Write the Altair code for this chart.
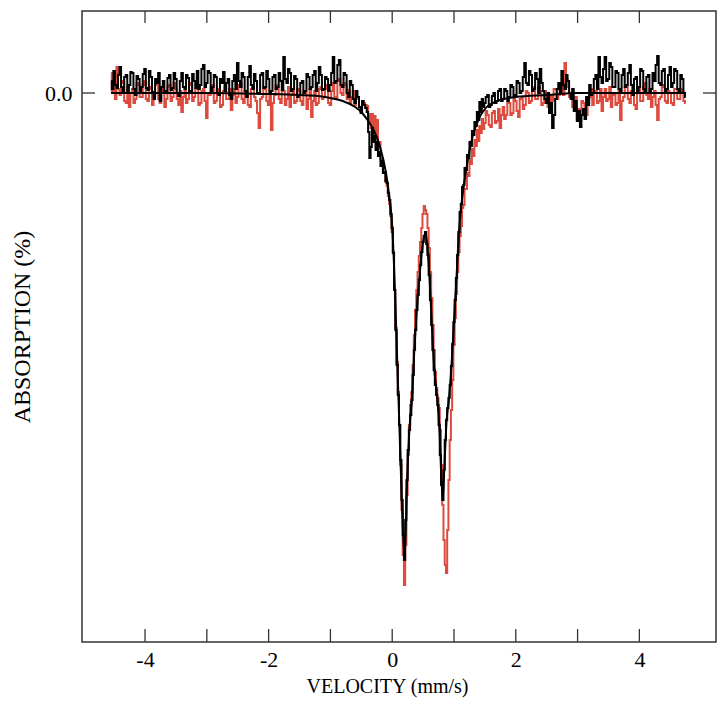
import altair as alt
import numpy as np
import pandas as pd

# ---- data (absorption in %, velocity in mm/s) ----
# channel grids: left wing, centre, right wing
left_start, left_step = -4.55, 0.025
mid_start, mid_step = -0.40, 0.02
right_start, right_step = 1.50, 0.025

black_left = [0.12,0.04,0.22,0.08,0.05,0.18,0.26,0.06,0.02,0.16,
 0.18,0.00,0.08,0.21,0.20,0.04,-0.02,0.17,0.14,0.02,
 0.06,0.19,0.24,0.05,0.03,0.22,0.16,0.01,-0.06,0.14,
 0.10,0.20,-0.08,0.06,0.12,0.02,0.00,0.15,0.18,0.03,
 0.05,0.20,0.14,0.00,-0.03,0.12,0.20,0.06,0.04,0.18,
 0.15,0.02,0.00,0.19,0.12,0.05,0.22,0.04,0.08,0.24,
 0.28,0.06,0.10,0.22,0.20,0.02,0.06,0.18,0.16,0.00,
 -0.02,0.14,0.10,0.21,0.02,0.10,0.14,-0.02,-0.06,0.12,
 0.18,0.04,0.30,0.12,0.06,0.20,0.16,0.02,-0.04,0.16,
 0.27,0.08,0.04,0.19,0.12,0.00,0.00,0.18,0.20,0.05,
 0.06,0.22,0.14,0.01,0.02,0.16,0.18,0.04,0.06,0.20,
 0.12,0.03,0.36,0.14,0.10,0.24,0.20,0.02,0.04,0.17,
 0.14,-0.04,-0.02,0.10,0.12,0.00,0.02,0.19,0.16,0.04,
 0.06,0.18,0.22,0.02,0.10,0.26,0.18,0.03,0.04,0.16,
 0.14,0.02,0.08,0.20,0.36,0.10,0.12,0.28,0.33,0.08,
 0.06,0.20,0.18,0.00,-0.04,0.12,0.08,-0.06,-0.10,0.02,
 -0.04,-0.14,-0.20,-0.08,-0.12,-0.15]
red_left = [0.20,0.02,0.08,-0.06,0.26,0.04,-0.02,0.12,0.10,-0.08,
 -0.10,0.06,-0.14,0.00,0.04,-0.10,-0.06,0.10,0.08,-0.04,
 -0.04,0.08,0.12,-0.06,-0.08,0.04,0.06,-0.12,-0.02,0.08,
 0.10,-0.06,-0.10,0.04,0.02,-0.14,-0.06,0.06,0.08,-0.08,
 -0.04,0.10,0.04,-0.06,-0.12,0.02,-0.19,-0.04,0.02,-0.10,
 -0.06,0.08,0.10,-0.08,-0.04,0.04,0.06,-0.12,-0.10,0.02,
 0.04,-0.08,-0.25,-0.02,-0.02,0.06,0.08,-0.10,-0.08,0.04,
 0.02,-0.14,-0.12,0.02,0.06,-0.06,-0.06,0.04,-0.17,-0.02,
 0.04,-0.10,-0.04,0.08,0.10,-0.06,-0.10,0.02,0.00,-0.12,
 -0.14,0.04,0.06,-0.04,-0.08,-0.20,-0.35,-0.06,-0.04,0.06,
 0.04,-0.08,-0.12,-0.02,-0.37,-0.10,-0.02,0.08,0.08,-0.06,
 -0.10,0.02,0.02,-0.12,-0.06,0.06,-0.14,-0.02,0.04,-0.10,
 -0.08,0.04,0.02,-0.08,-0.12,0.02,0.00,-0.16,-0.06,0.04,
 -0.24,-0.08,0.02,-0.12,-0.10,0.04,0.06,-0.06,-0.04,0.08,
 0.04,-0.10,-0.12,0.02,0.10,-0.04,-0.06,0.12,0.14,0.00,
 -0.02,0.10,0.08,-0.06,0.03,-0.10,-0.04,0.02,-0.12,-0.04,
 -0.06,-0.14,-0.16,-0.08,-0.10,-0.12]
black_mid = [-0.19,-0.39,-0.65,-0.54,-0.35,-0.49,-0.43,-0.57,-0.49,-0.63,
 -0.59,-0.73,-0.68,-0.80,-0.79,-0.88,-0.90,-1.00,-1.07,-1.21,
 -1.35,-1.60,-1.97,-2.37,-2.72,-3.02,-3.32,-3.67,-4.07,-4.42,
 -4.67,-4.27,-3.87,-3.57,-3.37,-3.22,-3.07,-2.82,-2.57,-2.37,
 -2.17,-2.02,-1.87,-1.72,-1.59,-1.49,-1.43,-1.39,-1.51,-1.62,
 -1.82,-2.07,-2.32,-2.57,-2.77,-2.92,-3.02,-3.12,-3.32,-3.62,
 -3.92,-4.07,-3.77,-3.47,-3.27,-3.15,-3.05,-2.92,-2.73,-2.51,
 -2.29,-2.07,-1.85,-1.62,-1.39,-1.19,-1.11,-0.94,-0.92,-0.75,
 -0.77,-0.62,-0.65,-0.49,-0.53,-0.38,-0.42,-0.29,-0.33,-0.19,
 -0.27,-0.09,-0.19,-0.06,-0.14]
red_mid = [-0.13,-0.28,-0.21,-0.35,-0.21,-0.37,-0.23,-0.43,-0.27,-0.51,
 -0.49,-0.66,-0.66,-0.79,-0.79,-0.89,-0.93,-1.03,-1.11,-1.23,
 -1.39,-1.59,-1.97,-2.35,-2.69,-2.99,-3.32,-3.72,-4.17,-4.62,
 -4.92,-4.52,-4.02,-3.62,-3.32,-3.12,-2.99,-2.72,-2.42,-2.17,
 -1.97,-1.79,-1.63,-1.49,-1.35,-1.21,-1.13,-1.17,-1.21,-1.35,
 -1.55,-1.79,-2.05,-2.32,-2.57,-2.79,-2.95,-3.05,-3.15,-3.37,
 -3.72,-4.12,-4.47,-4.72,-4.80,-4.37,-3.87,-3.47,-3.17,-2.87,
 -2.52,-2.25,-2.01,-1.79,-1.59,-1.43,-1.33,-1.15,-1.12,-0.96,
 -0.96,-0.80,-0.83,-0.67,-0.71,-0.56,-0.63,-0.47,-0.53,-0.37,
 -0.48,-0.33,-0.40,-0.26,-0.36]
black_right = [-0.10,-0.04,-0.02,-0.14,-0.12,-0.03,0.00,-0.10,-0.08,0.02,
 0.04,-0.08,-0.06,0.04,0.02,-0.08,-0.04,0.08,0.06,-0.04,
 -0.02,0.12,0.10,0.00,0.02,0.16,0.30,0.10,0.08,0.22,
 0.18,0.02,0.04,0.20,0.14,0.00,0.24,0.10,0.02,-0.06,
 -0.10,0.00,-0.20,-0.10,-0.35,-0.22,-0.06,0.04,0.10,0.00,
 0.22,0.08,0.04,0.18,0.12,0.00,-0.06,0.04,-0.18,-0.08,
 -0.28,-0.18,-0.34,-0.22,-0.16,-0.26,-0.04,-0.12,0.08,-0.02,
 0.00,0.14,0.18,0.04,0.36,0.16,0.10,0.24,0.36,0.12,
 0.14,0.30,0.26,0.06,0.06,0.22,0.20,0.04,0.02,0.18,
 0.24,0.06,0.08,0.20,0.28,0.08,-0.02,0.14,0.16,0.02,
 0.06,0.24,0.22,0.04,0.00,0.16,0.18,0.02,0.04,0.20,
 0.12,0.28,0.37,0.10,0.08,0.22,0.24,0.02,0.04,0.18,
 0.26,0.06,0.10,0.24,0.22,0.04,0.02,0.18,0.14,0.00,
 -0.04]
red_right = [-0.30,-0.18,-0.22,-0.32,-0.34,-0.20,-0.18,-0.30,-0.28,-0.16,
 -0.35,-0.22,-0.14,-0.26,-0.22,-0.10,-0.10,-0.22,-0.20,-0.06,
 -0.08,-0.18,-0.24,-0.06,-0.04,-0.16,-0.12,0.02,0.00,-0.10,
 -0.08,0.04,0.06,-0.06,-0.06,0.06,0.02,-0.12,-0.10,0.02,
 -0.04,-0.14,-0.16,-0.02,-0.08,0.04,0.04,-0.06,-0.02,0.08,
 0.10,-0.02,0.30,0.14,0.06,-0.04,-0.04,-0.14,-0.14,-0.04,
 -0.26,-0.16,-0.20,-0.08,-0.10,-0.20,-0.22,-0.06,-0.04,0.04,
 -0.12,0.02,0.02,-0.10,-0.08,0.04,-0.18,-0.04,0.04,-0.08,
 -0.06,0.06,-0.14,-0.02,0.00,-0.12,-0.10,0.04,-0.27,-0.08,
 -0.04,0.06,0.06,-0.06,-0.10,0.02,-0.02,-0.12,-0.16,0.00,
 0.04,-0.08,-0.08,0.06,0.10,-0.02,-0.06,0.04,-0.14,-0.04,
 0.02,-0.12,-0.27,-0.06,-0.04,0.08,0.06,-0.08,-0.10,0.02,
 0.00,-0.10,-0.12,0.04,0.04,-0.06,-0.06,0.04,0.02,-0.08,
 -0.10]

fit_v = [-4.55,-3.0,-2.0,-1.5,-1.2,-1.0,-0.8,-0.6,-0.5,-0.4,-0.3,-0.2,-0.1,-0.05,
         0.0,0.04,0.08,0.12,0.16,0.20,0.24,0.28,0.32,0.36,0.40,0.44,0.48,0.52,0.54,
         0.56,0.60,0.64,0.68,0.72,0.76,0.80,0.82,0.84,0.88,0.92,0.96,1.00,1.04,1.08,
         1.12,1.16,1.20,1.25,1.30,1.40,1.50,1.70,2.00,2.50,3.00,4.75]
fit_y = [0.00,0.00,-0.01,-0.02,-0.03,-0.05,-0.08,-0.14,-0.19,-0.27,-0.37,-0.53,-0.80,-1.02,
         -1.33,-1.90,-2.65,-3.40,-4.15,-4.65,-3.90,-3.35,-3.05,-2.55,-2.15,-1.85,-1.58,-1.43,-1.40,
         -1.48,-1.80,-2.30,-2.75,-3.00,-3.30,-3.90,-4.05,-3.80,-3.28,-3.05,-2.72,-2.28,-1.85,-1.40,
         -1.12,-0.92,-0.76,-0.58,-0.44,-0.26,-0.16,-0.08,-0.04,-0.02,0.00,0.00]

x_ticks = [-4, -3, -2, -1, 0, 1, 2, 3, 4]
x_labels = [-4, -2, 0, 2, 4]

# ---- build tables ----
def grid(start, step, n):
    return np.round(start + step * np.arange(n), 4)

vel = np.concatenate([grid(left_start, left_step, len(black_left)),
                      grid(mid_start, mid_step, len(black_mid)),
                      grid(right_start, right_step, len(black_right))])
black_all = black_left + black_mid + black_right
red_all = red_left + red_mid + red_right
assert len(black_all) == len(red_all) == len(vel)

df_black = pd.DataFrame({"v": vel, "y": black_all})
df_red = pd.DataFrame({"v": vel, "y": red_all})
df_fit = pd.DataFrame({"v": fit_v, "y": fit_y})
df_xt = pd.DataFrame({"v": x_ticks})
df_yt = pd.DataFrame({"y": [0.0]})

W, H = 634, 631
FONT = "Liberation Serif"

xs = alt.Scale(domain=[-5.02, 5.24], nice=False, zero=False)
ys = alt.Scale(domain=[-5.49, 0.82], nice=False, zero=False)

X = alt.X("v:Q", scale=xs, axis=alt.Axis(
    values=x_labels, ticks=False, domain=False, grid=False,
    labelExpr="'' + datum.value", labelFont=FONT, labelFontSize=22,
    labelColor="black", labelPadding=7,
    title="VELOCITY (mm/s)", titleFont=FONT, titleFontSize=20,
    titleFontWeight="normal", titleColor="black", titlePadding=6,
    titleX=305))
Y = alt.Y("y:Q", scale=ys, axis=alt.Axis(
    values=[0], format=".1f", ticks=False, domain=False, grid=False,
    labelFont=FONT, labelFontSize=22, labelColor="black", labelPadding=10,
    title="ABSORPTION (%)", titleFont=FONT, titleFontSize=24,
    titleFontWeight="normal", titleColor="black", titlePadding=10))

red = alt.Chart(df_red).mark_line(interpolate="step", color="#dd4b3e",
                                  strokeWidth=2.0).encode(x=X, y=Y)
black = alt.Chart(df_black).mark_line(interpolate="step", color="black",
                                      strokeWidth=2.0).encode(x=X, y=Y)
fit = alt.Chart(df_fit).mark_line(interpolate="monotone", color="black",
                                  strokeWidth=2).encode(x=X, y=Y)

tick_col = "#333333"
bot = alt.Chart(df_xt).mark_rule(color=tick_col, strokeWidth=1.3).encode(
    x=X, y=alt.value(H), y2=alt.value(H - 13))
top = alt.Chart(df_xt).mark_rule(color=tick_col, strokeWidth=1.3).encode(
    x=X, y=alt.value(0), y2=alt.value(12))
lft = alt.Chart(df_yt).mark_rule(color=tick_col, strokeWidth=1.3).encode(
    y=Y, x=alt.value(0), x2=alt.value(13))
rgt = alt.Chart(df_yt).mark_rule(color=tick_col, strokeWidth=1.3).encode(
    y=Y, x=alt.value(W - 13), x2=alt.value(W))

chart = alt.layer(red, black, fit, bot, top, lft, rgt).properties(
    width=W, height=H,
    autosize=alt.AutoSizeParams(type="none"),
    padding={"left": 74, "top": 3, "right": 1, "bottom": 60},
    background="white",
).configure_view(stroke="#333333", strokeWidth=1.5)

chart.save("out.html", embed_options={"renderer": "svg", "actions": False})
